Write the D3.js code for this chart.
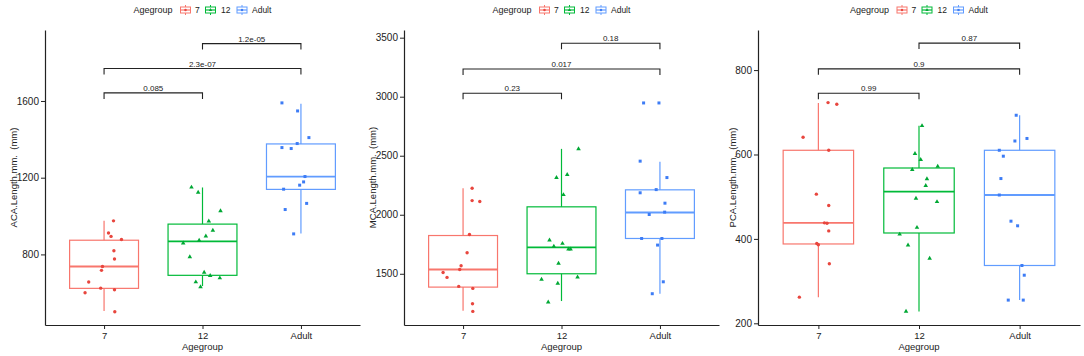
<!DOCTYPE html>
<html>
<head>
<meta charset="utf-8">
<script src="https://cdn.jsdelivr.net/npm/d3@7"></script>
<style>
  body { margin: 0; background: #fff; }
  svg { display: block; font-family: "Liberation Sans", Arial, sans-serif; }
</style>
</head>
<body>
<svg width="1084" height="356"></svg>
<script>
const groups = ["7", "12", "Adult"];
const pairs = [[0, 1], [0, 2], [1, 2]];

// ACA panel
const acaStats = [[505, 623, 737, 874, 976], [635, 691, 868, 958, 1149], [909, 1139, 1206, 1376, 1586]];
const acaValues = [
  [975, 912, 894, 878, 819, 776, 737, 717, 656, 624, 616, 600, 501],
  [1150, 1123, 1027, 973, 925, 895, 873, 859, 787, 706, 689, 677, 656, 631],
  [1590, 1548, 1409, 1378, 1357, 1352, 1206, 1178, 1161, 1140, 1066, 1034, 907]
];
const acaJitter = [
  [.096, .045, .071, .177, .10, .106, -.016, -.026, -.156, -.034, .106, -.193, .109],
  [-.112, -.044, .183, .064, .105, .034, -.034, -.196, -.129, .017, .078, .176, -.068, -.02],
  [-.193, -.034, .081, -.038, -.193, -.099, .041, .027, -.013, -.176, .058, -.16, -.074]
];
const acaTicks = [800, 1200, 1600];
const acaPvals = ["0.085", "2.3e-07", "1.2e-05"];
const acaBracketY = [1642, 1769, 1899];

// MCA panel
const mcaStats = [[1187, 1387, 1536, 1824, 2225], [1269, 1500, 1723, 2067, 2558], [1331, 1799, 2019, 2211, 2448]];
const mcaValues = [
  [2225, 2120, 2112, 1833, 1678, 1568, 1536, 1511, 1469, 1393, 1376, 1246, 1181],
  [2558, 2340, 2315, 2169, 1785, 1756, 1731, 1709, 1709, 1587, 1472, 1452, 1418, 1260],
  [2947, 2947, 2454, 2315, 2213, 2186, 2098, 2022, 2002, 1799, 1799, 1743, 1432, 1331]
];
const mcaJitter = [
  [.092, .092, .17, .065, .041, -.02, -.034, -.203, -.163, -.044, .099, .096, .099],
  [.173, .058, -.051, .02, -.122, .01, -.078, .071, .092, -.03, .163, -.203, -.038, -.135],
  [-.166, -.01, -.201, .071, -.038, -.201, .051, .048, -.109, -.186, .02, -.024, .034, -.078]
];
const mcaTicks = [1500, 2000, 2500, 3000, 3500];
const mcaPvals = ["0.23", "0.017", "0.18"];
const mcaBracketY = [3029, 3235, 3453];

// PCA panel
const pcaStats = [[262, 388, 438, 610, 722], [228, 414, 512, 568, 668], [255, 337, 504, 610, 693]];
const pcaValues = [
  [723, 719, 641, 610, 506, 479, 438, 437, 419, 389, 386, 341, 262],
  [668, 602, 588, 572, 564, 542, 526, 496, 488, 427, 411, 385, 354, 228],
  [693, 638, 632, 610, 596, 543, 504, 442, 431, 337, 314, 255, 255]
];
const pcaJitter = [
  [.096, .183, -.152, .103, -.02, .103, .06, .086, .103, -.016, 0, .109, -.189],
  [.03, -.04, .017, .186, -.067, .079, .067, -.03, .179, -.02, -.192, -.109, .106, -.129],
  [-.034, .073, -.047, -.202, -.162, -.186, -.202, -.086, -.02, .023, .046, -.113, .036]
];
const pcaTicks = [200, 400, 600, 800];
const pcaPvals = ["0.99", "0.9", "0.87"];
const pcaBracketY = [745, 803, 864];

const boxColors = ["#F8766D", "#00BA38", "#619CFF"];
const pointColors = ["#e8463e", "#00a834", "#3d7cf5"];
const shapes = [d3.symbolCircle, d3.symbolTriangle, d3.symbolSquare];
const shapeSizes = [9, 9, 9];

const svg = d3.select('svg');
const plotTop = 30, plotBottom = 325;

const panels = [
  { left: 45, right: 360, domain: [432, 1970], title: "ACA.Length.mm.  (mm)", titleX: 14,
    stats: acaStats, values: acaValues, jitter: acaJitter, ticks: acaTicks, pvals: acaPvals, by: acaBracketY },
  { left: 404, right: 719, domain: [1066, 3565], title: "MCA.Length.mm.  (mm)", titleX: 373,
    stats: mcaStats, values: mcaValues, jitter: mcaJitter, ticks: mcaTicks, pvals: mcaPvals, by: mcaBracketY },
  { left: 758, right: 1080, domain: [196, 895], title: "PCA.Length.mm.  (mm)", titleX: 733,
    stats: pcaStats, values: pcaValues, jitter: pcaJitter, ticks: pcaTicks, pvals: pcaPvals, by: pcaBracketY }
];

const drawKey = (g, i) => {
  g.append('line').attr('x1', 0).attr('x2', 0).attr('y1', -5).attr('y2', 5)
    .attr('stroke', boxColors[i]).attr('stroke-width', 1);
  g.append('rect').attr('x', -5).attr('y', -3).attr('width', 10).attr('height', 6)
    .attr('fill', '#fff').attr('stroke', boxColors[i]).attr('stroke-width', 1);
  g.append('line').attr('x1', -5).attr('x2', 5).attr('y1', 0).attr('y2', 0)
    .attr('stroke', boxColors[i]).attr('stroke-width', 1.2);
  g.append('path').attr('d', d3.symbol(shapes[i], 5)())
    .attr('fill', pointColors[i]);
};

panels.forEach(p => {
  const x = d3.scalePoint().domain(groups).range([p.left, p.right]).padding(0.6);
  const step = x.step();
  const y = d3.scaleLinear().domain(p.domain).range([plotBottom, plotTop]);
  const g = svg.append('g');

  // axes
  const yAxis = d3.axisLeft(y).tickValues(p.ticks).tickFormat(d3.format('d'))
    .tickSize(4).tickPadding(2).tickSizeOuter(0);
  const ya = g.append('g').attr('transform', `translate(${p.left},0)`).call(yAxis);
  ya.select('.domain').attr('stroke', '#222').attr('stroke-width', 1.2);
  ya.selectAll('.tick line').attr('stroke', '#222');
  ya.selectAll('text').attr('font-size', 10).attr('fill', '#222');
  ya.attr('font-family', null);

  const xAxis = d3.axisBottom(x).tickSize(4).tickPadding(3).tickSizeOuter(0);
  const xa = g.append('g').attr('transform', `translate(0,${plotBottom})`).call(xAxis);
  xa.select('.domain').attr('stroke', '#222').attr('stroke-width', 1.2);
  xa.selectAll('.tick line').attr('stroke', '#222');
  xa.selectAll('text').attr('font-size', 9.5).attr('fill', '#222');
  xa.attr('font-family', null);

  g.append('text').attr('x', (p.left + p.right) / 2).attr('y', 350)
    .attr('text-anchor', 'middle').attr('font-size', 9.5).attr('fill', '#222').text('Agegroup');
  g.append('text').attr('transform', `translate(${p.titleX},${(plotTop + plotBottom) / 2}) rotate(-90)`)
    .attr('text-anchor', 'middle').attr('dy', '0.35em').attr('font-size', 9.5).attr('fill', '#222')
    .style('white-space', 'pre')
    .text(p.title);

  // boxes
  const bw = step * 0.7;
  groups.forEach((grp, i) => {
    const [lo, q1, med, q3, hi] = p.stats[i];
    const cx = x(grp);
    const c = boxColors[i];
    g.append('line').attr('x1', cx).attr('x2', cx).attr('y1', y(q3)).attr('y2', y(hi))
      .attr('stroke', c).attr('stroke-width', 1.2);
    g.append('line').attr('x1', cx).attr('x2', cx).attr('y1', y(q1)).attr('y2', y(lo))
      .attr('stroke', c).attr('stroke-width', 1.2);
    g.append('rect').attr('x', cx - bw / 2).attr('y', y(q3)).attr('width', bw).attr('height', y(q1) - y(q3))
      .attr('fill', 'none').attr('stroke', c).attr('stroke-width', 1.2);
    g.append('line').attr('x1', cx - bw / 2).attr('x2', cx + bw / 2).attr('y1', y(med)).attr('y2', y(med))
      .attr('stroke', c).attr('stroke-width', 1.8);

    g.selectAll(null).data(p.values[i]).enter().append('path')
      .attr('d', d3.symbol(shapes[i], shapeSizes[i])())
      .attr('transform', (d, j) => `translate(${cx + p.jitter[i][j] * step},${y(d)})`)
      .attr('fill', pointColors[i]);
  });

  // significance brackets
  pairs.forEach(([a, b], k) => {
    const yy = y(p.by[k]);
    const x1 = x(groups[a]), x2 = x(groups[b]);
    g.append('path').attr('d', `M${x1},${yy + 6}V${yy}H${x2}V${yy + 6}`)
      .attr('fill', 'none').attr('stroke', '#222').attr('stroke-width', 1.1);
    g.append('text').attr('x', (x1 + x2) / 2).attr('y', yy - 2)
      .attr('text-anchor', 'middle').attr('font-size', 8).attr('fill', '#222').text(p.pvals[k]);
  });

  // legend
  const lg = g.append('g').attr('transform', `translate(${(p.left + p.right) / 2 - 69},10)`);
  lg.append('text').attr('x', 0).attr('dy', '0.35em').attr('font-size', 9).attr('fill', '#222').text('Agegroup');
  const keyX = [52, 77, 108.5];
  const labX = [61.5, 87.5, 118.5];
  groups.forEach((grp, i) => {
    drawKey(lg.append('g').attr('transform', `translate(${keyX[i]},0)`), i);
    lg.append('text').attr('x', labX[i]).attr('dy', '0.35em').attr('font-size', 8.5)
      .attr('fill', '#222').text(grp);
  });
});
</script>
</body>
</html>
